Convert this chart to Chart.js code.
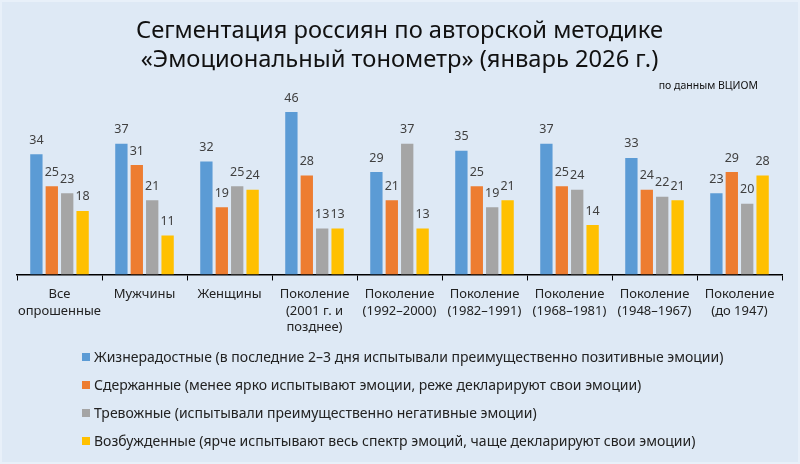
<!DOCTYPE html>
<html>
<head>
<meta charset="utf-8">
<script src="https://cdn.jsdelivr.net/npm/chart.js@4"></script>
<style>
  html, body { margin: 0; padding: 0; }
  body { width: 800px; height: 464px; background: #dee9f5; position: relative; overflow: hidden; font-family: "Noto Sans", sans-serif; }
  .frame { position: absolute; left: 0; top: 0; width: 796px; height: 460px; border: 2px solid #e8f0f9; }
  #wrap { position: absolute; left: 0; top: 0; width: 800px; height: 464px; }
  #legend { position: absolute; left: 82px; top: 345px; }
  .item { height: 28px; line-height: 24px; font-size: 14px; color: #222; white-space: nowrap; }
  .box { display: inline-block; width: 8px; height: 8px; margin-right: 4px; vertical-align: 1px; }
</style>
</head>
<body>
<div class="frame"></div>
<div id="wrap"><canvas id="chart"></canvas></div>
<div id="legend"></div>
<script>
const categories = [
    ['Все', 'опрошенные'],
    'Мужчины',
    'Женщины',
    ['Поколение', '(2001 г. и', 'позднее)'],
    ['Поколение', '(1992–2000)'],
    ['Поколение', '(1982–1991)'],
    ['Поколение', '(1968–1981)'],
    ['Поколение', '(1948–1967)'],
    ['Поколение', '(до 1947)']
];
const seriesNames = [
    'Жизнерадостные (в последние 2–3 дня испытывали преимущественно позитивные эмоции)',
    'Сдержанные (менее ярко испытывают эмоции, реже декларируют свои эмоции)',
    'Тревожные (испытывали преимущественно негативные эмоции)',
    'Возбужденные (ярче испытывают весь спектр эмоций, чаще декларируют свои эмоции)'
];
const cheerful = [34, 37, 32, 46, 29, 35, 37, 33, 23];
const restrained = [25, 31, 19, 28, 21, 25, 25, 24, 29];
const anxious = [23, 21, 25, 13, 37, 19, 24, 22, 20];
const excited = [18, 11, 24, 13, 13, 21, 14, 21, 28];
const colors = ['#5b9bd5', '#ed7d31', '#a5a5a5', '#ffc000'];
const sourceNote = 'по данным ВЦИОМ';

const seriesValues = [cheerful, restrained, anxious, excited];

// value labels above each bar + the source note under the title
const barLabels = {
    id: 'barLabels',
    afterDatasetsDraw(chart) {
        const ctx = chart.ctx;
        ctx.save();
        ctx.font = '12.5px "Noto Sans"';
        ctx.fillStyle = '#404040';
        ctx.textAlign = 'center';
        ctx.textBaseline = 'middle';
        chart.data.datasets.forEach((ds, i) => {
            chart.getDatasetMeta(i).data.forEach((bar, j) => {
                ctx.fillText(ds.data[j], bar.x, bar.y - 14);
            });
        });
        ctx.font = '10.5px "Noto Sans"';
        ctx.fillStyle = '#111';
        ctx.textAlign = 'right';
        ctx.fillText(sourceNote, 758, 86);
        ctx.restore();
    }
};

new Chart(document.getElementById('chart'), {
    type: 'bar',
    data: {
        labels: categories,
        datasets: seriesNames.map((name, i) => ({
            label: name,
            data: seriesValues[i],
            backgroundColor: colors[i],
            categoryPercentage: 0.725,
            barPercentage: 0.8
        }))
    },
    options: {
        responsive: true,
        maintainAspectRatio: false,
        animation: false,
        layout: { padding: { left: 17, right: 18, top: 0, bottom: 122 } },
        plugins: {
            legend: { display: false },
            tooltip: { enabled: false },
            title: {
                display: true,
                text: ['Сегментация россиян по авторской методике', '«Эмоциональный тонометр» (январь 2026 г.)'],
                font: { family: '"Noto Sans"', size: 23.7, weight: 'normal', lineHeight: 1.22 },
                color: '#111',
                padding: { top: 17, bottom: 23 }
            }
        },
        scales: {
            x: {
                grid: { display: true, drawOnChartArea: false, drawTicks: true, tickLength: 6, color: '#000', offset: true },
                border: { display: true, color: '#000', width: 1.5 },
                ticks: { color: '#222', font: { family: '"Noto Sans"', size: 13, lineHeight: 1.27 }, padding: 6, maxRotation: 0, autoSkip: false }
            },
            y: {
                display: false,
                min: 0,
                max: 50
            }
        }
    },
    plugins: [barLabels]
});

const legend = document.getElementById('legend');
seriesNames.forEach((name, i) => {
    const row = document.createElement('div');
    row.className = 'item';
    row.innerHTML = '<span class="box" style="background:' + colors[i] + '"></span>' + name;
    legend.appendChild(row);
});
</script>
</body>
</html>
